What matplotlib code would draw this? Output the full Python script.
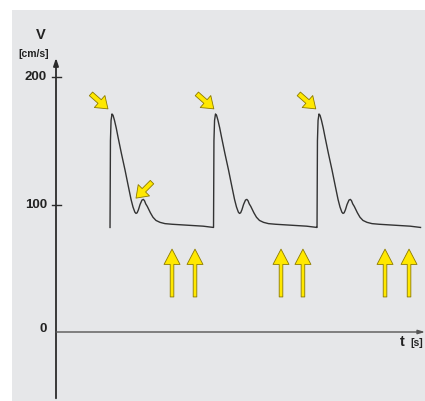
import numpy as np
import matplotlib.pyplot as plt

# one heart beat of the velocity trace (time since beat start [s], velocity [cm/s])
beat_t = [0, 0.004, 0.01, 0.019, 0.029, 0.043, 0.06, 0.077, 0.11, 0.145, 0.175, 0.203,
          0.222, 0.24, 0.251, 0.262, 0.275, 0.29, 0.309, 0.322, 0.333, 0.345, 0.36,
          0.375, 0.39, 0.415, 0.444, 0.483, 0.531, 0.6, 0.7, 0.8, 0.9, 1.0]
beat_v = [82, 150, 166, 171, 170, 166, 160, 153, 140, 127, 115, 104,
          98, 94, 93, 93.5, 96, 100, 103.5, 104, 103, 100.5, 98.5,
          96, 93.5, 90, 87.5, 86, 85, 84.5, 84, 83.5, 83, 82]
beat_starts = [0.522, 1.522, 2.522]

# yellow marker arrows
peak_arrow_tips = [(0.502, 175), (1.525, 175), (2.51, 175)]
notch_arrow_tip = (0.773, 105)
up_arrow_t = [1.121, 1.343, 2.174, 2.386, 3.179, 3.411]

t = np.concatenate([np.array(beat_t) + s for s in beat_starts])
v = np.concatenate([beat_v for s in beat_starts])

px_t = 1 / 103.5   # seconds per pixel
px_v = 1 / 1.275   # cm/s per pixel

fig = plt.figure(figsize=(4.25, 4.01), dpi=100)
ax = fig.add_axes([12 / 425, 0, 413 / 425, 391 / 401])
ax.set_facecolor('#e6e7e9')
ax.set_xlim(-44 * px_t, 369 * px_t)
ax.set_ylim(-69 * px_v, 322 * px_v)

for s in ['top', 'right', 'bottom', 'left']:
    ax.spines[s].set_visible(False)
ax.set_xticks([])
ax.set_yticks([])

yellow = '#ffe800'
edge = '#8c7a00'
dark = '#2b2b2b'
txt = dict(fontweight='bold', color='#222222', family='Liberation Sans')

# axes
ax.annotate('', xy=(0, 215), xytext=(0, -52),
            arrowprops=dict(arrowstyle='-|>,head_length=0.45,head_width=0.15', color=dark,
                            lw=1.3, shrinkA=0, shrinkB=0, mutation_scale=10))
ax.annotate('', xy=(369 * px_t, 0), xytext=(0, 0),
            arrowprops=dict(arrowstyle='-|>,head_length=0.4,head_width=0.12', color='#555555',
                            lw=1.0, shrinkA=0, shrinkB=0, mutation_scale=10))
for yv in [100, 200]:
    ax.plot([-4 * px_t, 5 * px_t], [yv, yv], color=dark, lw=1.0)
    ax.text(-9 * px_t, yv, str(yv), ha='right', va='center', fontsize=9.5, **txt)
ax.text(-9 * px_t, 2, '0', ha='right', va='center', fontsize=9.5, **txt)
ax.text(-15 * px_t, 233, 'V', ha='center', va='center', fontsize=10.5, **txt)
ax.text(-7 * px_t, 218, '[cm/s]', ha='right', va='center', fontsize=7.5, **txt)
ax.text(344 * px_t, -8, 't', ha='left', va='center', fontsize=10.5, **txt)
ax.text(354 * px_t, -9, '[s]', ha='left', va='center', fontsize=7.5, **txt)

# velocity trace
ax.plot(t, v, color='#333333', lw=1.0, solid_joinstyle='round')

# arrows pointing at the peaks
arrow_small = 'simple,head_length=8,head_width=11.5,tail_width=3.5'
for tip in peak_arrow_tips:
    ax.annotate('', xy=tip, xytext=(tip[0] - 17 * px_t, tip[1] + 15 * px_v),
                arrowprops=dict(arrowstyle=arrow_small, fc=yellow, ec=edge, lw=0.6,
                                shrinkA=0, shrinkB=0, mutation_scale=1))
ax.annotate('', xy=notch_arrow_tip,
            xytext=(notch_arrow_tip[0] + 16 * px_t, notch_arrow_tip[1] + 16 * px_v),
            arrowprops=dict(arrowstyle=arrow_small, fc=yellow, ec=edge, lw=0.6,
                            shrinkA=0, shrinkB=0, mutation_scale=1))

# upward arrows
arrow_up = 'simple,head_length=11,head_width=11.5,tail_width=2.6'
for ut in up_arrow_t:
    ax.annotate('', xy=(ut, 65), xytext=(ut, 27.5),
                arrowprops=dict(arrowstyle=arrow_up, fc=yellow, ec=edge, lw=0.6,
                                shrinkA=0, shrinkB=0, mutation_scale=1))

fig.savefig('out.png', dpi=100, facecolor='white')
